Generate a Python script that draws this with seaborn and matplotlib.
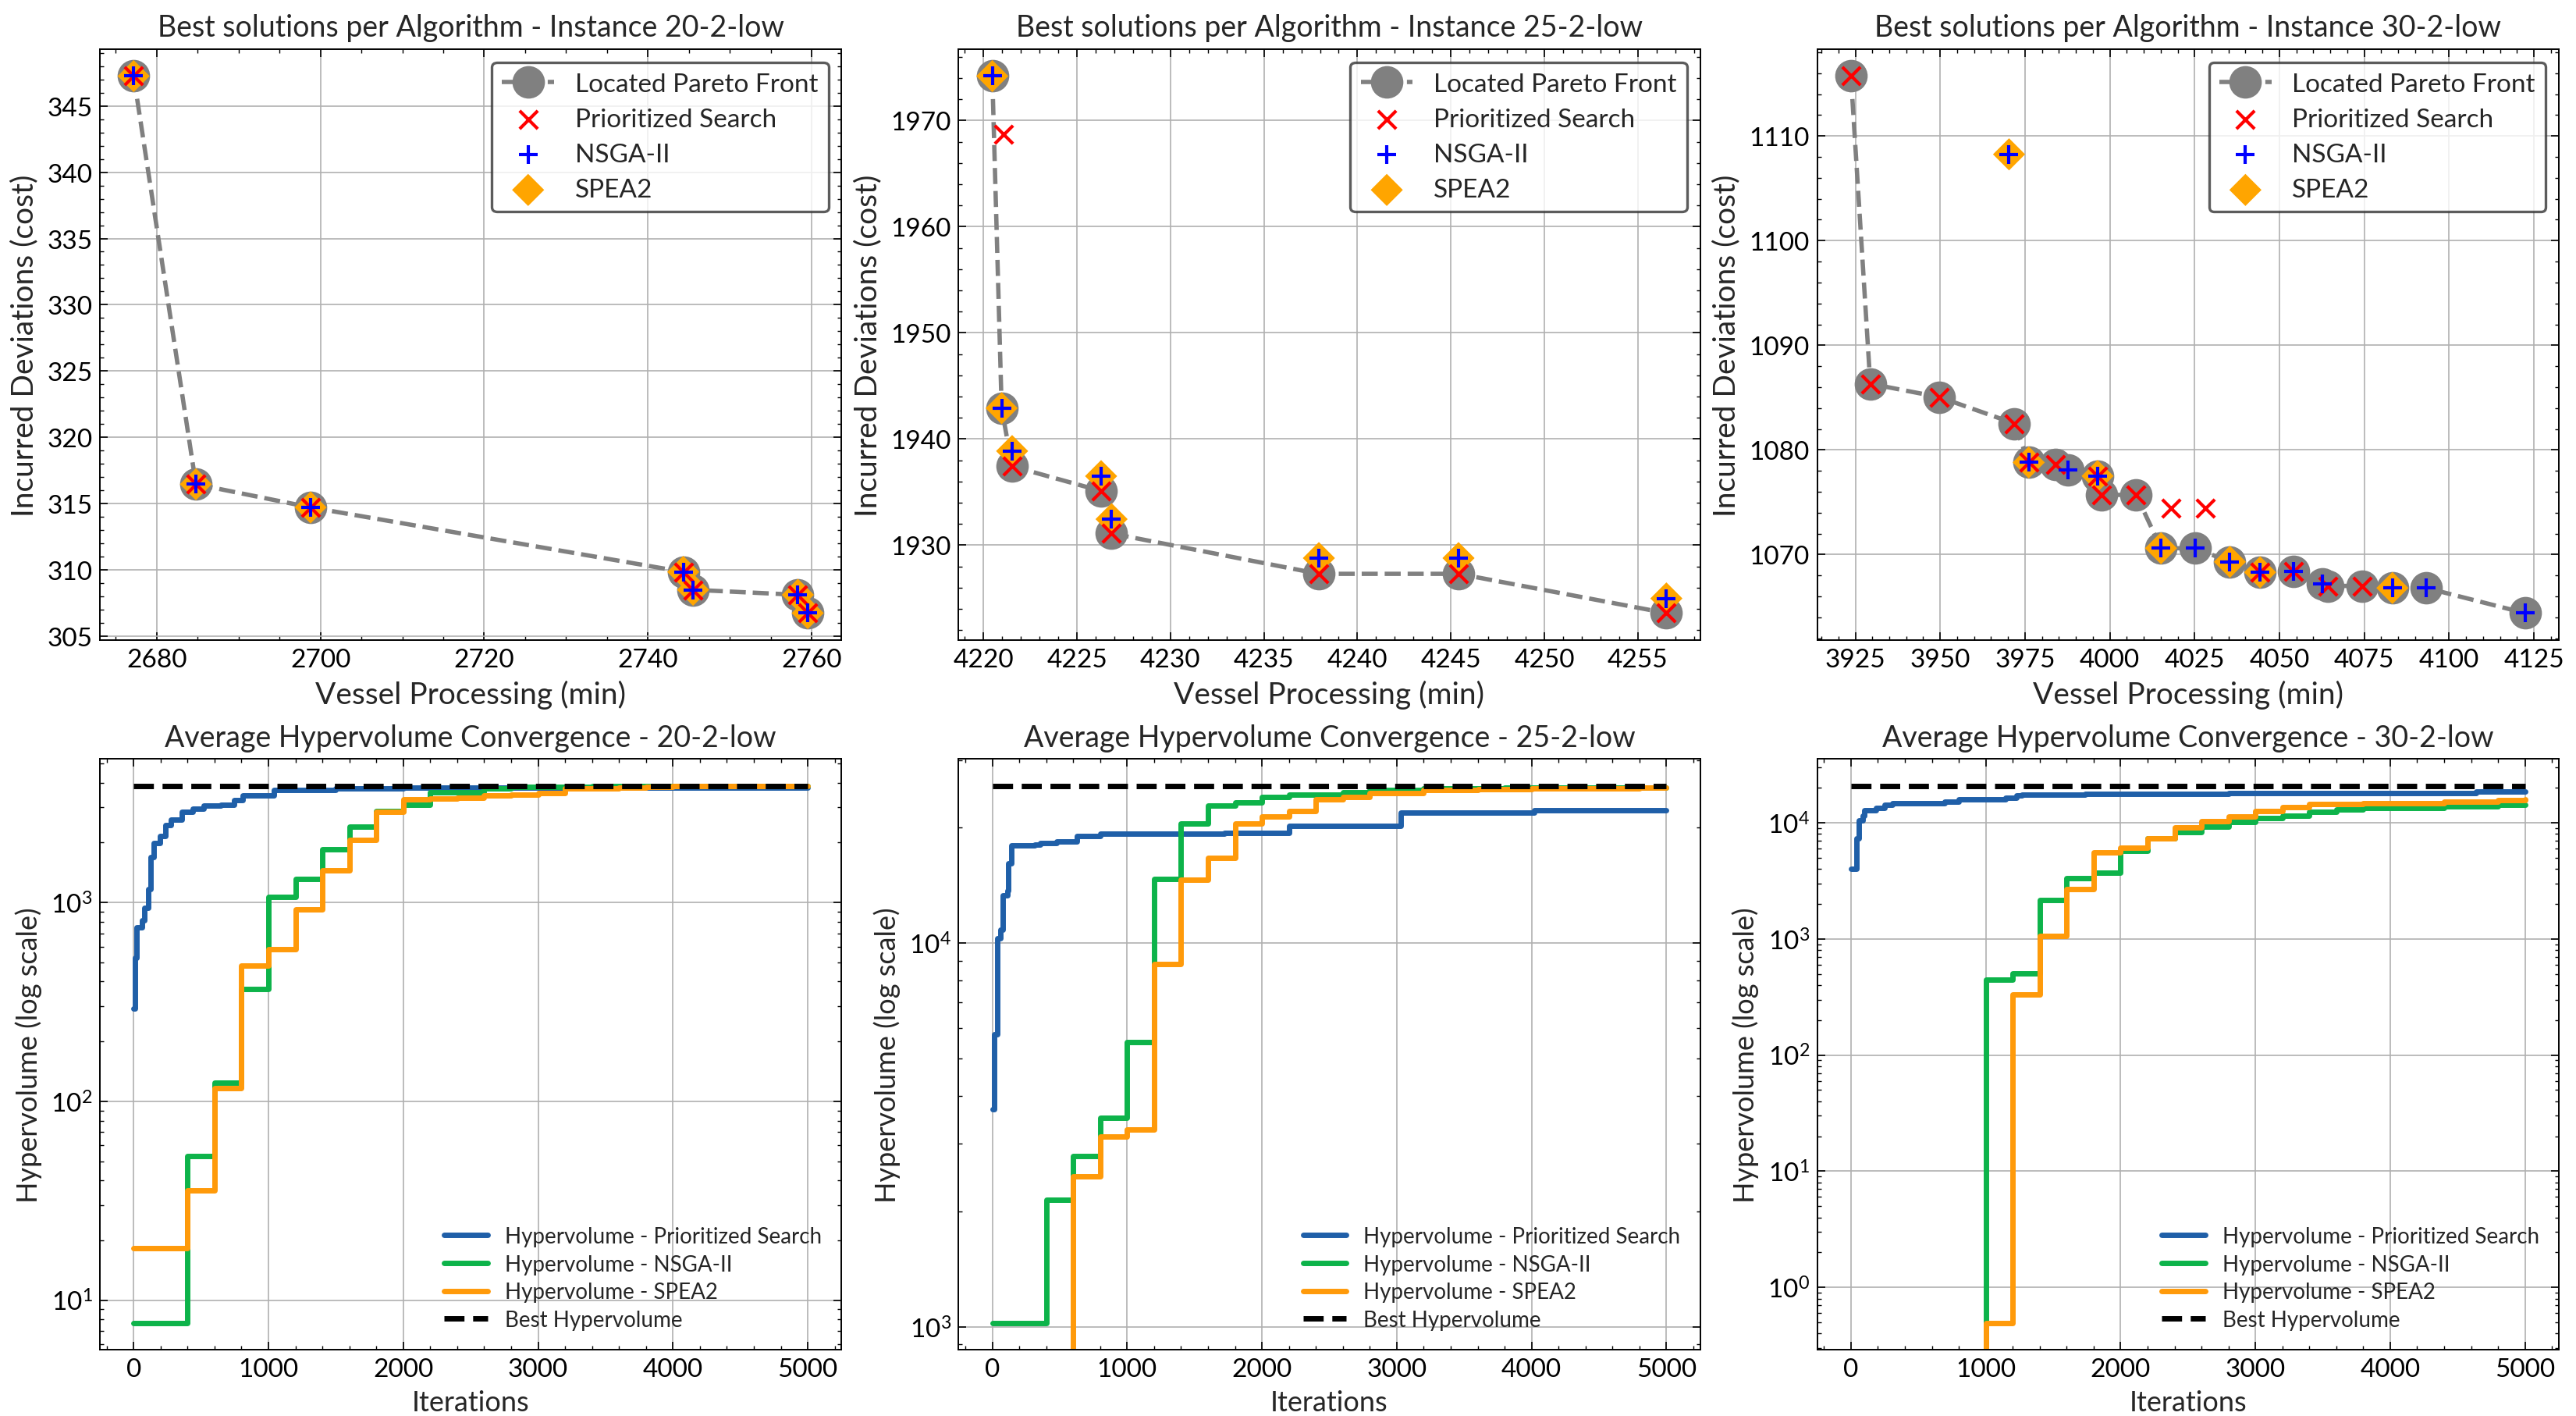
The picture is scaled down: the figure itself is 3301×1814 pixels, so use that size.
import numpy as np
import matplotlib
matplotlib.use("Agg")
import matplotlib.pyplot as plt
from matplotlib.ticker import MultipleLocator, AutoMinorLocator
import seaborn as sns

# ---- top row: best solutions per algorithm ----
instances = ["20-2-low", "25-2-low", "30-2-low"]

pareto_x_20 = [2677.2, 2684.8, 2698.8, 2744.3, 2745.5, 2758.3, 2759.5]
pareto_y_20 = [347.26, 316.45, 314.7, 309.83, 308.48, 308.1, 306.72]
ps_x_20 = pareto_x_20
ps_y_20 = pareto_y_20
nsga_x_20 = pareto_x_20
nsga_y_20 = pareto_y_20
spea_x_20 = pareto_x_20
spea_y_20 = pareto_y_20

pareto_x_25 = [4220.47, 4220.97, 4221.53, 4226.29, 4226.85, 4237.94, 4245.41, 4256.53]
pareto_y_25 = [1974.18, 1942.9, 1937.43, 1935.1, 1931.1, 1927.3, 1927.3, 1923.6]
ps_x_25 = [4221.06, 4221.53, 4226.29, 4226.85, 4237.94, 4245.41, 4256.53]
ps_y_25 = [1968.7, 1937.43, 1935.1, 1931.1, 1927.3, 1927.3, 1923.6]
nsga_x_25 = [4220.47, 4220.97, 4221.53, 4226.29, 4226.85, 4237.94, 4245.41, 4256.53]
nsga_y_25 = [1974.18, 1942.9, 1938.86, 1936.5, 1932.45, 1928.78, 1928.78, 1924.98]
spea_x_25 = nsga_x_25
spea_y_25 = nsga_y_25

pareto_x_30 = [3923.7, 3929.4, 3949.8, 3971.9, 3976.1, 3983.9, 3987.7, 3996.4, 3997.6,
               4007.8, 4015.1, 4025.2, 4035.4, 4044.3, 4054.2, 4062.7, 4064.3, 4074.5,
               4083.3, 4093.3, 4122.4]
pareto_y_30 = [1115.73, 1086.32, 1085.04, 1082.52, 1078.8, 1078.6, 1078.1, 1077.5, 1075.7,
               1075.7, 1070.6, 1070.6, 1069.3, 1068.3, 1068.35, 1067.2, 1067.0, 1067.0,
               1066.8, 1066.8, 1064.4]
ps_x_30 = [3923.7, 3929.4, 3949.8, 3971.9, 3976.1, 3983.9, 3996.4, 3997.6, 4007.8,
           4018.0, 4028.1, 4044.3, 4054.2, 4064.3, 4074.5]
ps_y_30 = [1115.73, 1086.32, 1085.04, 1082.52, 1078.8, 1078.6, 1077.5, 1075.7, 1075.7,
           1074.4, 1074.4, 1068.3, 1068.35, 1067.0, 1067.0]
nsga_x_30 = [3970.3, 3976.1, 3987.7, 3996.4, 4015.1, 4025.2, 4035.4, 4044.3, 4054.2,
             4062.7, 4083.3, 4093.3, 4122.4]
nsga_y_30 = [1108.25, 1078.8, 1078.1, 1077.5, 1070.6, 1070.6, 1069.3, 1068.3, 1068.35,
             1067.2, 1066.8, 1066.8, 1064.4]
spea_x_30 = [3970.3, 3976.1, 3996.4, 4015.1, 4035.4, 4044.3, 4083.3]
spea_y_30 = [1108.25, 1078.8, 1077.5, 1070.6, 1069.3, 1068.3, 1066.8]

# ---- bottom row: hypervolume convergence ----
gen_iters = [0, 200, 400, 600, 800, 1000, 1200, 1400, 1600, 1800, 2000, 2200, 2400,
             2600, 2800, 3000, 3200, 3400, 3600, 3800, 4000, 4200, 4400, 4600, 4800, 5000]

ps_it_20 = [0, 8, 20, 60, 80, 106, 127, 147, 196, 237, 278, 359, 441, 520, 645, 747,
            808, 1040, 1500, 2000, 3000, 5000]
ps_hv_20 = [294, 525, 748, 810, 939, 1171, 1694, 1983, 2147, 2450, 2610, 2840, 2945,
            3055, 3100, 3270, 3440, 3680, 3740, 3760, 3780, 3790]
nsga_hv_20 = [7.7, 7.7, 53, 124, 366, 1065, 1309, 1852, 2399, 2870, 3090, 3576, 3576,
              3730, 3810, 3810, 3820, 3830, 3840, 3845, 3850, 3850, 3850, 3850, 3850, 3850]
spea_hv_20 = [18.2, 18.2, 35.8, 117, 481, 581, 919, 1453, 2069, 2852, 3290, 3320, 3360,
              3440, 3480, 3540, 3730, 3730, 3790, 3800, 3830, 3840, 3845, 3850, 3850, 3850]
best_hv_20 = 3854

ps_it_25 = [0, 16, 37, 61, 78, 110, 118, 139, 314, 355, 478, 629, 804, 1722, 2008,
            2204, 3029, 4020, 5000]
ps_hv_25 = [3690, 5800, 10280, 10850, 13330, 13700, 16140, 17950, 18050, 18200, 18420,
            19050, 19250, 19370, 19420, 20250, 21870, 22220, 22220]
nsga_hv_25 = [1025, 1025, 2148, 2793, 3506, 5513, 14730, 20510, 22820, 23300, 24040,
              24370, 24370, 24770, 25110, 25110, 25320, 25350, 25350, 25380, 25380,
              25400, 25400, 25400, 25400, 25400]
spea_hv_25 = [0, 0, 0, 2473, 3141, 3265, 8818, 14620, 16670, 20510, 21380, 22080, 23720,
              24090, 24580, 24600, 25040, 25100, 25150, 25200, 25250, 25280, 25300,
              25350, 25380, 25400]
best_hv_25 = 25700

ps_it_30 = [0, 41, 57, 86, 98, 188, 249, 310, 698, 800, 1147, 1229, 1269, 1739, 2800,
            4637, 5000]
ps_hv_30 = [4020, 7290, 10460, 11460, 12880, 13350, 14210, 14740, 15290, 15990, 16430,
            17190, 17510, 17820, 18140, 18470, 18470]
nsga_hv_30 = [0, 0, 0, 0, 0, 443, 508, 2173, 3350, 3704, 5768, 7290, 8280, 9310, 10090,
              10940, 11550, 12420, 12990, 13480, 13480, 13480, 13850, 13850, 14230, 14300]
spea_hv_30 = [0, 0, 0, 0, 0, 0.494, 333, 1065, 2672, 5560, 6080, 7360, 9140, 10370,
              11350, 12540, 13720, 14480, 14480, 14740, 14740, 14740, 15290, 15290,
              15700, 15800]
best_hv_30 = 20800

top_data = [
    (pareto_x_20, pareto_y_20, ps_x_20, ps_y_20, nsga_x_20, nsga_y_20, spea_x_20, spea_y_20),
    (pareto_x_25, pareto_y_25, ps_x_25, ps_y_25, nsga_x_25, nsga_y_25, spea_x_25, spea_y_25),
    (pareto_x_30, pareto_y_30, ps_x_30, ps_y_30, nsga_x_30, nsga_y_30, spea_x_30, spea_y_30),
]
bottom_data = [
    (ps_it_20, ps_hv_20, nsga_hv_20, spea_hv_20, best_hv_20),
    (ps_it_25, ps_hv_25, nsga_hv_25, spea_hv_25, best_hv_25),
    (ps_it_30, ps_hv_30, nsga_hv_30, spea_hv_30, best_hv_30),
]
x_steps = [20, 5, 25]
y_steps = [5, 10, 10]

sns.set_style("ticks")
plt.rcParams.update({
    "font.family": ["Lato", "DejaVu Sans"],
    "mathtext.default": "regular",
    "xtick.direction": "in",
    "ytick.direction": "in",
    "xtick.top": True,
    "ytick.right": True,
    "xtick.minor.visible": True,
    "ytick.minor.visible": True,
    "xtick.major.size": 3.5,
    "ytick.major.size": 3.5,
    "xtick.minor.size": 1.8,
    "ytick.minor.size": 1.8,
    "xtick.major.width": 0.6,
    "ytick.major.width": 0.6,
    "xtick.minor.width": 0.5,
    "ytick.minor.width": 0.5,
    "axes.linewidth": 0.7,
    "axes.edgecolor": "black",
    "xtick.color": "black",
    "ytick.color": "black",
    "xtick.labelsize": 12,
    "ytick.labelsize": 12,
})

fig, axes = plt.subplots(2, 3, figsize=(16.505, 9.075), dpi=200)
fig.subplots_adjust(left=0.0388, right=0.9933, bottom=0.0468, top=0.9647,
                    wspace=0.158, hspace=0.2015)

grid_kw = dict(color="#b0b0b0", linewidth=0.6)

for i, ax in enumerate(axes[0]):
    px, py, rx, ry, nx, ny, sx, sy = top_data[i]
    sns.lineplot(x=px, y=py, ax=ax, sort=False, estimator=None, color="gray",
                 linestyle="--", linewidth=2, marker="o", markersize=15,
                 markeredgecolor="gray", markeredgewidth=0, label="Located Pareto Front",
                 zorder=1)
    sns.scatterplot(x=rx, y=ry, ax=ax, marker="x", color="red", s=70, linewidth=1.5,
                    label="Prioritized Search", zorder=3)
    sns.scatterplot(x=nx, y=ny, ax=ax, marker="+", color="blue", s=80, linewidth=1.5,
                    label="NSGA-II", zorder=4)
    sns.scatterplot(x=sx, y=sy, ax=ax, marker="D", color="orange", s=110,
                    edgecolor="none", label="SPEA2", zorder=2)
    ax.xaxis.set_major_locator(MultipleLocator(x_steps[i]))
    ax.yaxis.set_major_locator(MultipleLocator(y_steps[i]))
    ax.xaxis.set_minor_locator(AutoMinorLocator())
    ax.yaxis.set_minor_locator(AutoMinorLocator())
    ax.grid(True, which="major", **grid_kw)
    ax.set_axisbelow(True)
    ax.set_title(f"Best solutions per Algorithm - Instance {instances[i]}", fontsize=13.5)
    ax.set_xlabel("Vessel Processing (min)", fontsize=14)
    ax.set_ylabel("Incurred Deviations (cost)", fontsize=14)
    leg = ax.legend(loc="upper right", fontsize=12, frameon=True, fancybox=True,
                    framealpha=0.8, edgecolor="0.2", borderpad=0.4, labelspacing=0.45)
    leg.get_frame().set_linewidth(1.2)

for i, ax in enumerate(axes[1]):
    it, ps_hv, nsga_hv, spea_hv, best = bottom_data[i]
    sns.lineplot(x=it, y=ps_hv, ax=ax, estimator=None, drawstyle="steps-post",
                 color="#1f5fa8", linewidth=2.5, label="Hypervolume - Prioritized Search")
    sns.lineplot(x=gen_iters, y=nsga_hv, ax=ax, estimator=None, drawstyle="steps-post",
                 color="#0db34a", linewidth=2.5, label="Hypervolume - NSGA-II")
    sns.lineplot(x=gen_iters, y=spea_hv, ax=ax, estimator=None, drawstyle="steps-post",
                 color="#ff9a0a", linewidth=2.5, label="Hypervolume - SPEA2")
    sns.lineplot(x=[gen_iters[0], gen_iters[-1]], y=[best, best], ax=ax, estimator=None,
                 color="black", linestyle="--", linewidth=2.5, label="Best Hypervolume")
    ax.set_yscale("log")
    ax.xaxis.set_major_locator(MultipleLocator(1000))
    ax.xaxis.set_minor_locator(AutoMinorLocator())
    ax.grid(True, which="major", **grid_kw)
    ax.set_axisbelow(True)
    ax.set_title(f"Average Hypervolume Convergence - {instances[i]}", fontsize=13.5)
    ax.set_xlabel("Iterations", fontsize=13)
    ax.set_ylabel("Hypervolume (log scale)", fontsize=13)
    ax.legend(loc="lower right", fontsize=10, frameon=False, labelspacing=0.35)

fig.savefig("out.png", dpi=200)
